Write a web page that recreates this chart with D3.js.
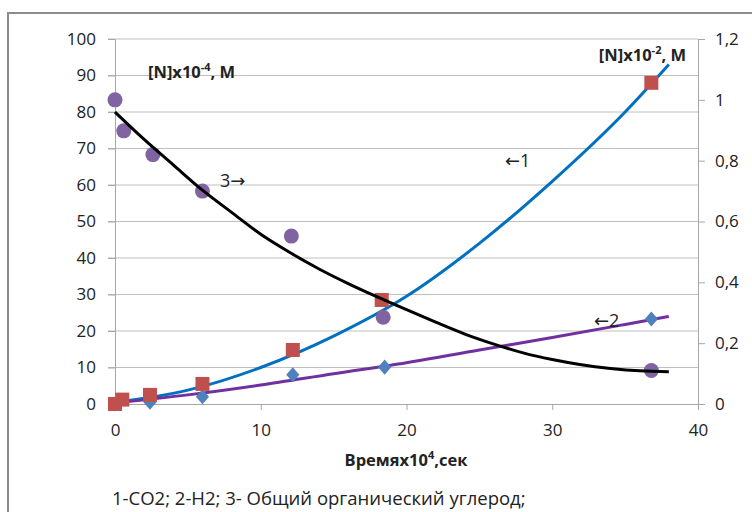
<!DOCTYPE html>
<html>
<head>
<meta charset="utf-8">
<script src="https://cdn.jsdelivr.net/npm/d3@7"></script>
<style>
  body { margin: 0; background: #fff; }
  svg text { font-family: "Open Sans", sans-serif; fill: #222; }
</style>
</head>
<body>
<svg class="chart" width="752" height="512"></svg>
<script>
// data (time in 10^4 s)
var timeCO2 = [0, 0.5, 2.4, 6, 12.2, 18.3, 36.8];
var valCO2 = [0, 1.2, 2.5, 5.5, 14.8, 28.5, 88];            // left axis

var timeH2 = [0, 2.4, 6, 12.2, 18.5, 36.8];
var valH2 = [0, 0.5, 2, 8, 10.1, 23.3];                      // left axis

var timeTOC = [0, 0.6, 2.6, 6, 12.1, 18.4, 36.8];
var valTOC = [1.0, 0.898, 0.82, 0.70, 0.552, 0.285, 0.11];   // right axis

// trend curves
var trendCO2T = [0, 5, 10, 15, 20, 25, 30, 35, 38];
var trendCO2V = [0.5, 3.8, 10, 18.6, 29.5, 44, 61, 80, 93];

var trendH2T = [0, 5, 10, 15, 20, 25, 30, 35, 38];
var trendH2V = [0.3, 2.5, 5.2, 8.3, 11.3, 14.8, 18.2, 21.8, 24];

var trendTOCT = [0, 2, 4, 6, 8, 10, 12, 14, 16, 18, 20, 22, 24, 26, 28, 30, 32, 34, 36, 38];
var trendTOCV = [0.96, 0.87, 0.786, 0.703, 0.63, 0.558, 0.498, 0.444, 0.396, 0.352,
                 0.31, 0.269, 0.23, 0.197, 0.168, 0.146, 0.129, 0.117, 0.109, 0.106];

var leftTicks = [0, 10, 20, 30, 40, 50, 60, 70, 80, 90, 100];
var rightTicks = [0, 0.2, 0.4, 0.6, 0.8, 1, 1.2];
var xTicks = [0, 10, 20, 30, 40];

var canvas = d3.select(".chart");

// outer frame
canvas.append("path")
    .attr("d", "M8,520 L8,13 L760,13")
    .attr("fill", "none")
    .attr("stroke", "#8c8c8c")
    .attr("stroke-width", 2);

var x = d3.scaleLinear().domain([0, 40]).range([115, 698]);
var yL = d3.scaleLinear().domain([0, 100]).range([404, 39]);
var yR = d3.scaleLinear().domain([0, 1.2]).range([404, 39]);

// gridlines
canvas.append("g").selectAll("line")
    .data(leftTicks.slice(1))
    .enter().append("line")
    .attr("x1", 108).attr("x2", 698)
    .attr("y1", function (d) { return yL(d); })
    .attr("y2", function (d) { return yL(d); })
    .attr("stroke", "#bfbfbf").attr("stroke-width", 1);

// left axis
var yAxisL = d3.axisLeft(yL).tickValues(leftTicks).tickSize(7).tickPadding(12);
var gL = canvas.append("g")
    .attr("transform", "translate(115,0)")
    .call(yAxisL);

// right axis
var yAxisR = d3.axisRight(yR).tickValues(rightTicks).tickSize(7).tickPadding(10)
    .tickFormat(function (d) { return String(+d.toFixed(1)).replace(".", ","); });
var gR = canvas.append("g")
    .attr("transform", "translate(698,0)")
    .call(yAxisR);

// bottom axis
var xAxis = d3.axisBottom(x).tickValues(xTicks).tickSize(6).tickPadding(14);
var gX = canvas.append("g")
    .attr("transform", "translate(0,404)")
    .call(xAxis);

[gL, gR, gX].forEach(function (g) {
    g.select(".domain").attr("stroke", "#a6a6a6");
    g.selectAll(".tick line").attr("stroke", "#a6a6a6");
    g.selectAll(".tick text")
        .style("font-family", "'Open Sans', sans-serif")
        .style("font-size", "17px")
        .attr("fill", "#222");
});

// trend lines
function trend(ts, vs, y) {
    return d3.line()
        .x(function (d, i) { return x(ts[i]); })
        .y(function (d, i) { return y(vs[i]); })
        .curve(d3.curveMonotoneX)(vs);
}

canvas.append("path")
    .attr("d", trend(trendCO2T, trendCO2V, yL))
    .attr("fill", "none").attr("stroke", "#0070c0").attr("stroke-width", 3);

canvas.append("path")
    .attr("d", trend(trendH2T, trendH2V, yL))
    .attr("fill", "none").attr("stroke", "#7030a0").attr("stroke-width", 3);

// markers
canvas.append("g").selectAll("path")
    .data(valH2)
    .enter().append("path")
    .attr("d", d3.symbol().type(d3.symbolDiamond2).size(110))
    .attr("transform", function (d, i) {
        return "translate(" + x(timeH2[i]) + "," + yL(d) + ") scale(1,1.15)";
    })
    .attr("fill", "#4f81bd");

canvas.append("g").selectAll("rect")
    .data(valCO2)
    .enter().append("rect")
    .attr("x", function (d, i) { return x(timeCO2[i]) - 7; })
    .attr("y", function (d) { return yL(d) - 7; })
    .attr("width", 14).attr("height", 14)
    .attr("fill", "#c0504d");

canvas.append("g").selectAll("circle")
    .data(valTOC)
    .enter().append("circle")
    .attr("cx", function (d, i) { return x(timeTOC[i]); })
    .attr("cy", function (d) { return yR(d); })
    .attr("r", 7.5)
    .attr("fill", "#8064a2");

canvas.append("path")
    .attr("d", trend(trendTOCT, trendTOCV, yR))
    .attr("fill", "none").attr("stroke", "#000").attr("stroke-width", 3);

// axis titles
var tl = canvas.append("text")
    .attr("x", 148).attr("y", 78)
    .style("font-size", "16.5px").style("font-weight", "bold");
tl.append("tspan").text("[N]x10");
tl.append("tspan").attr("dy", -7).style("font-size", "11px").text("-4");
tl.append("tspan").attr("dy", 7).text(", M");

var tr = canvas.append("text")
    .attr("x", 686).attr("y", 61)
    .style("text-anchor", "end")
    .style("font-size", "16.5px").style("font-weight", "bold");
tr.append("tspan").text("[N]x10");
tr.append("tspan").attr("dy", -7).style("font-size", "11px").text("-2");
tr.append("tspan").attr("dy", 7).text(", M");

var xt = canvas.append("text")
    .attr("x", 406).attr("y", 466)
    .style("text-anchor", "middle")
    .style("font-size", "16.5px").style("font-weight", "bold");
xt.append("tspan").text("Времяx10");
xt.append("tspan").attr("dy", -7).style("font-size", "11px").text("4");
xt.append("tspan").attr("dy", 7).text(",сек");

// curve labels
function curveLabel(px, py, parts) {
    var t = canvas.append("text").attr("x", px).attr("y", py).style("font-size", "18px");
    parts.forEach(function (p) {
        var s = t.append("tspan").text(p);
        if (p === "→" || p === "←") s.style("font-family", "'DejaVu Sans', sans-serif");
    });
}
curveLabel(220, 187, ["3", "→"]);
curveLabel(505, 167, ["←", "1"]);
curveLabel(594, 327, ["←", "2"]);

// legend note
canvas.append("text").attr("x", 112).attr("y", 505)
    .style("font-size", "18.5px")
    .text("1-CO2; 2-H2; 3- Общий органический углерод;");
</script>
</body>
</html>
